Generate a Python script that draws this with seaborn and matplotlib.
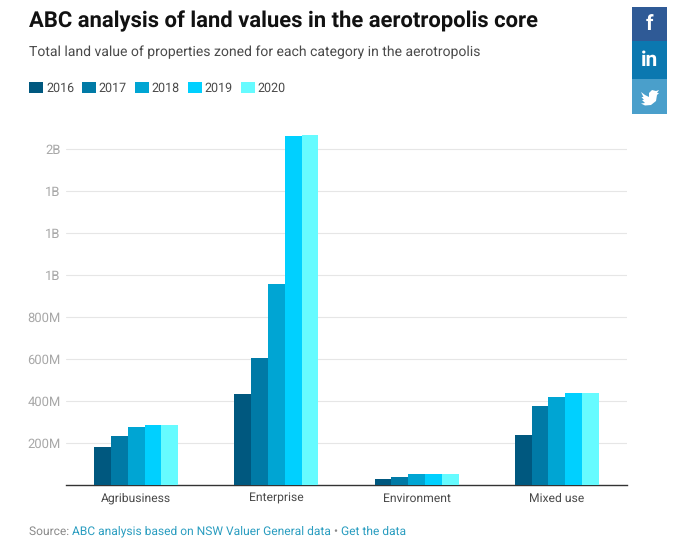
import pandas as pd
import matplotlib.pyplot as plt
import matplotlib.patches as mpatches
from matplotlib.path import Path
import seaborn as sns

# Values in millions
categories = ['Agribusiness', 'Enterprise', 'Environment', 'Mixed use']
years = ['2016', '2017', '2018', '2019', '2020']
v2016 = [180, 431, 25, 235]
v2017 = [232, 603, 38, 374]
v2018 = [275, 956, 48, 417]
v2019 = [284, 1662, 48, 436]
v2020 = [284, 1667, 48, 436]
y_ticks = [200, 400, 600, 800, 1000, 1200, 1400, 1600]
y_labels = ['200M', '400M', '600M', '800M', '1B', '1B', '1B', '2B']
colors = ['#00587f', '#007aa6', '#00a5d3', '#00d0ff', '#66fbff']

W, H = 686, 556

df = pd.DataFrame({'category': categories, '2016': v2016, '2017': v2017,
                   '2018': v2018, '2019': v2019, '2020': v2020})
df = df.melt(id_vars='category', var_name='year', value_name='value')

sns.set_theme(style='white')
plt.rcParams['font.family'] = ['Roboto', 'DejaVu Sans']
plt.rcParams['text.hinting'] = 'none'

fig = plt.figure(figsize=(W / 100, H / 100), dpi=100)
ax = fig.add_axes([66 / W, 1 - 484.5 / H, 561 / W, 354.5 / H])

sns.barplot(data=df, x='category', y='value', hue='year', hue_order=years,
            palette=colors, width=0.6, gap=0, saturation=1, ax=ax, zorder=3,
            linewidth=0, errorbar=None)

ax.set_xlim(-0.5, 3.5)
ax.set_ylim(0, 1692)
ax.set_xlabel('')
ax.set_ylabel('')
ax.set_yticks(y_ticks)
ax.set_yticklabels(y_labels)
ax.yaxis.grid(True, color='#e6e6e6', linewidth=0.8)
ax.set_axisbelow(True)
ax.tick_params(axis='y', length=0, pad=4, labelsize=9.4, labelcolor='#a8a8a8')
ax.tick_params(axis='x', length=0, pad=6, labelsize=8.7, labelcolor='#4a4a4a')
for s in ['top', 'left', 'right']:
    ax.spines[s].set_visible(False)
ax.spines['bottom'].set_color('#333333')
ax.spines['bottom'].set_linewidth(1)

# Legend
handles, labels = ax.get_legend_handles_labels()
ax.get_legend().remove()
fig.legend(handles, labels, loc='upper left', bbox_to_anchor=(29 / W, 1 - 82 / H),
           bbox_transform=fig.transFigure, ncol=5, frameon=False, fontsize=9,
           labelcolor='#4a4a4a', handlelength=1.12, handleheight=1.0,
           handletextpad=0.24, columnspacing=0.62, borderpad=0, borderaxespad=0)

# Title and subtitle
fig.text(29 / W, 1 - 21 / H, 'ABC analysis of land values in the aerotropolis core',
         fontsize=15.8, fontweight='bold', color='#111111', va='center')
fig.text(29 / W, 1 - 52 / H, 'Total land value of properties zoned for each category in the aerotropolis',
         fontsize=10.05, color='#4a4a4a', va='center')

# Source line, pieces placed one after the other
renderer = fig.canvas.get_renderer()
x = 29 / W
for piece, col in [('Source: ', '#8a8a8a'),
                   ('ABC analysis based on NSW Valuer General data', '#2a9dc0'),
                   (' \u2022 ', '#8a8a8a'),
                   ('Get the data', '#2a9dc0')]:
    t = fig.text(x, 1 - 531.5 / H, piece, fontsize=8.65, color=col, va='center')
    x += t.get_window_extent(renderer).width / W

# Share buttons
for top, bottom, col, glyph in [(7, 41, '#2f5a96', 'f'), (41, 79, '#0b78b0', 'in'),
                                (79, 114, '#4a9fcb', None)]:
    fig.add_artist(mpatches.Rectangle((632 / W, 1 - bottom / H), 35 / W, (bottom - top) / H,
                                      transform=fig.transFigure, facecolor=col, linewidth=0))
    if glyph:
        fig.text(649.5 / W, 1 - (top + bottom) / 2 / H, glyph, color='white', fontsize=15,
                 fontweight='bold', ha='center', va='center')

# Twitter bird, rough outline
bird = [(641, 92), (645, 95), (649, 97), (649, 93), (652, 90), (656, 91), (659, 90),
        (657, 93), (659, 93), (657, 95), (656, 101), (651, 105), (645, 105.5), (641, 103.5),
        (645, 103), (642, 100), (644, 100), (641.5, 97), (643.5, 97), (641, 92)]
fig.add_artist(mpatches.PathPatch(Path([(px / W, 1 - py / H) for px, py in bird]),
                                  transform=fig.transFigure, facecolor='white', linewidth=0))

plt.savefig('out.png', dpi=100)
